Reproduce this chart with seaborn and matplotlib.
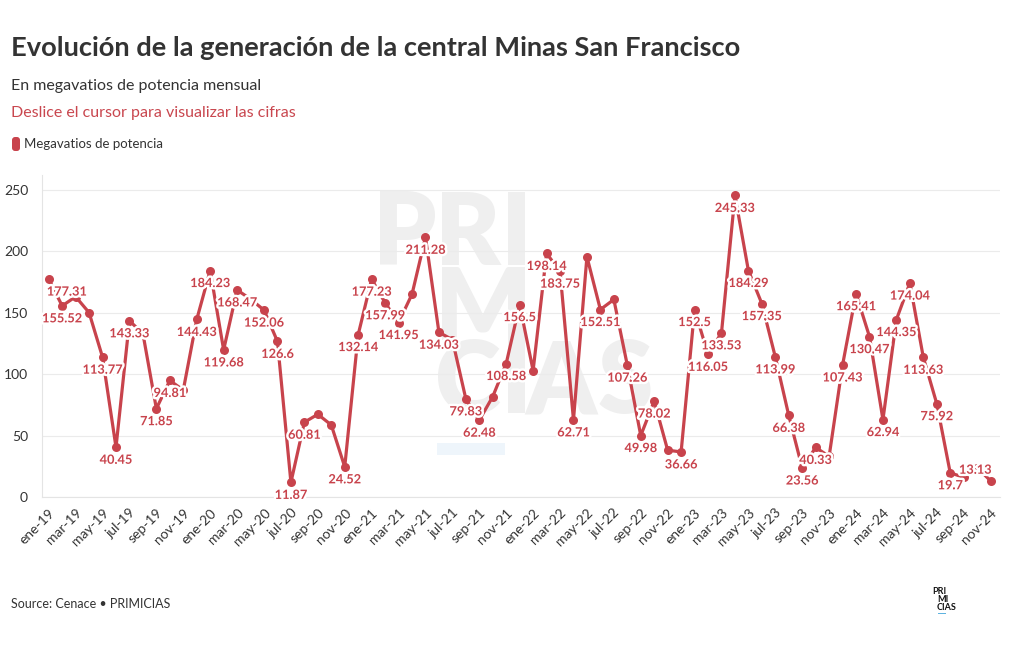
import matplotlib
matplotlib.use('Agg')
import matplotlib.pyplot as plt
import matplotlib.patheffects as pe
from matplotlib.patches import FancyBboxPatch
import seaborn as sns
import pandas as pd

# datos mensuales ene-2019 .. nov-2024 (MW)
meses_abr = ['ene', 'feb', 'mar', 'abr', 'may', 'jun', 'jul', 'ago', 'sep', 'oct', 'nov', 'dic']
anios = ['19', '20', '21', '22', '23', '24']
meses = [f'{m}-{a}' for a in anios for m in meses_abr][:71]

valores = [
    177.31, 155.52, 163.0, 150.0, 113.77, 40.45, 143.33, 133.0, 71.85, 94.81, 87.0, 144.43,
    184.23, 119.68, 168.47, 161.0, 152.06, 126.6, 11.87, 60.81, 67.3, 58.6, 24.52, 132.14,
    177.23, 157.99, 141.95, 165.0, 211.28, 134.03, 128.0, 79.83, 62.48, 81.7, 108.58, 156.5,
    102.9, 198.14, 183.75, 62.71, 195.5, 152.51, 160.7, 107.26, 49.98, 78.02, 38.1, 36.66,
    152.5, 116.05, 133.53, 245.33, 184.29, 157.35, 113.99, 66.38, 23.56, 40.33, 33.0, 107.43,
    165.41, 130.47, 62.94, 144.35, 174.04, 113.63, 75.92, 19.7, 16.0, 24.0, 13.13,
]

# etiquetas visibles en el grafico (las que se solapan no aparecen)
etiquetas = [
    '177.31', '155.52', '', '', '113.77', '40.45', '143.33', '', '71.85', '94.81', '', '144.43',
    '184.23', '119.68', '168.47', '', '152.06', '126.6', '11.87', '60.81', '', '', '24.52', '132.14',
    '177.23', '157.99', '141.95', '', '211.28', '134.03', '', '79.83', '62.48', '', '108.58', '156.5',
    '', '198.14', '183.75', '62.71', '', '152.51', '', '107.26', '49.98', '78.02', '', '36.66',
    '152.5', '116.05', '133.53', '245.33', '184.29', '157.35', '113.99', '66.38', '23.56', '40.33', '', '107.43',
    '165.41', '130.47', '62.94', '144.35', '174.04', '113.63', '75.92', '19.7', '', '', '13.13',
]

rojo = '#c8434c'
gris = '#333333'

df = pd.DataFrame({'pos': range(len(meses)), 'mes': meses, 'mw': valores})

sns.set_style('white')
plt.rcParams['font.family'] = ['Lato', 'DejaVu Sans']

fig = plt.figure(figsize=(10.2, 6.5), dpi=100)
ax = fig.add_axes([42 / 1020, 1 - 497 / 650, 958 / 1020, 322 / 650])

# marca de agua, letra a letra (tiene mucho espaciado)
wm = dict(transform=fig.transFigure, fontsize=72, fontweight='heavy', color='#efefef',
          va='baseline', ha='left', zorder=0.5)
for linea, base, letras in [('PRI', 265, [373, 435, 501]),
                            ('MI', 340, [435, 501]),
                            ('CIAS', 413, [435, 501, 525, 598])]:
    for ch, xx in zip(linea, letras):
        ax.text(xx / 1020, 1 - base / 650, ch, **wm)
ax.add_patch(FancyBboxPatch((437 / 1020, 1 - 455 / 650), 68 / 1020, 12 / 650,
                            boxstyle='square,pad=0', transform=fig.transFigure,
                            facecolor='#eef5fb', edgecolor='none', zorder=0.5))

sns.lineplot(data=df, x='pos', y='mw', ax=ax, color=rojo, linewidth=2.3,
             marker='o', markersize=6.5, markeredgewidth=0, zorder=3)

halo = [pe.withStroke(linewidth=3.5, foreground='white')]
ultimo = len(valores) - 1
for i, (v, t) in enumerate(zip(valores, etiquetas)):
    if not t:
        continue
    off = (0, -9)
    if i == 0:
        off = (13, -9)
    elif i == ultimo:
        off = (-11, 8)
    ax.annotate(t, (i, v), xytext=off, textcoords='offset points', ha='center', va='center',
                fontsize=9.2, fontweight='bold', color=rojo, path_effects=halo, zorder=4)

ax.set_xlim(-0.5, 70.7)
ax.set_ylim(0, 262)
ax.set_yticks([0, 50, 100, 150, 200, 250])
ax.set_xticks(range(len(meses)))
ax.set_xticklabels([m if i % 2 == 0 else '' for i, m in enumerate(meses)],
                   rotation=45, ha='right', rotation_mode='anchor')
ax.tick_params(axis='x', length=5, width=0.8, color='#dddddd', labelsize=10, labelcolor=gris, pad=2)
ax.tick_params(axis='y', length=0, labelsize=10, labelcolor=gris, pad=10)
ax.grid(axis='y', color='#ebebeb', linewidth=0.8)
ax.set_xlabel('')
ax.set_ylabel('')
for s in ['top', 'right']:
    ax.spines[s].set_visible(False)
for s in ['left', 'bottom']:
    ax.spines[s].set_color('#e4e4e4')
    ax.spines[s].set_linewidth(0.8)

# textos de cabecera
fig.text(11 / 1020, 1 - 56 / 650, 'Evolución de la generación de la central Minas San Francisco',
         fontsize=19.6, fontweight='bold', color=gris, va='baseline')
fig.text(11 / 1020, 1 - 90 / 650, 'En megavatios de potencia mensual',
         fontsize=11.5, color=gris, va='baseline')
fig.text(11 / 1020, 1 - 117 / 650, 'Deslice el cursor para visualizar las cifras',
         fontsize=11.5, color='#c9474f', va='baseline')
fig.patches.append(FancyBboxPatch((12 / 1020, 1 - 151 / 650), 8 / 1020, 14 / 650,
                                  boxstyle='round,pad=0,rounding_size=0.003',
                                  mutation_aspect=1020 / 650, transform=fig.transFigure,
                                  facecolor=rojo, edgecolor='none', figure=fig))
fig.text(24 / 1020, 1 - 148 / 650, 'Megavatios de potencia', fontsize=9.5, color=gris, va='baseline')

# pie
fig.text(11 / 1020, 1 - 608 / 650, 'Source: Cenace • PRIMICIAS', fontsize=9, color=gris, va='baseline')
logo = dict(fontsize=6.5, fontweight='bold', color='#111111', va='baseline', ha='left')
fig.text(932 / 1020, 1 - 594 / 650, 'PRI', **logo)
fig.text(937 / 1020, 1 - 602 / 650, 'MI', **logo)
fig.text(937 / 1020, 1 - 610 / 650, 'CIAS', **logo)
fig.patches.append(FancyBboxPatch((938 / 1020, 1 - 614 / 650), 8 / 1020, 1.5 / 650,
                                  boxstyle='square,pad=0', transform=fig.transFigure,
                                  facecolor='#5fb3e0', edgecolor='none', figure=fig))

fig.savefig('out.png', dpi=100, facecolor='white')
